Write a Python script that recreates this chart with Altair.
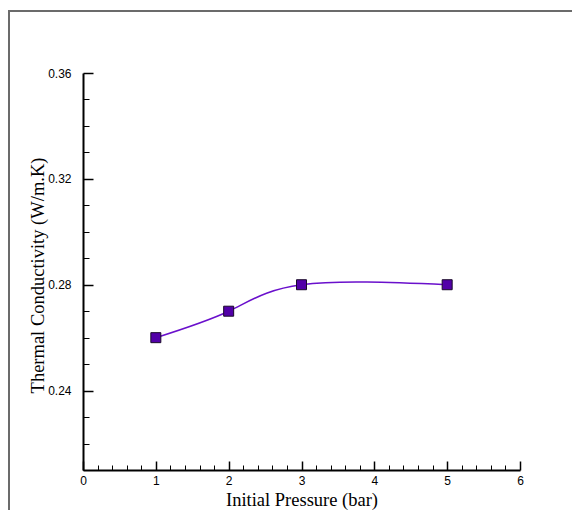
import altair as alt
import pandas as pd

# Data
pressure = [1, 2, 3, 5]
conductivity = [0.26, 0.27, 0.28, 0.28]

# Tick values
x_major = [0, 1, 2, 3, 4, 5, 6]
x_minor = [0.2, 0.4, 0.6, 0.8, 1.2, 1.4, 1.6, 1.8, 2.2, 2.4, 2.6, 2.8,
           3.2, 3.4, 3.6, 3.8, 4.2, 4.4, 4.6, 4.8, 5.2, 5.4, 5.6, 5.8]
y_major = [0.24, 0.28, 0.32, 0.36]
y_minor = [0.21, 0.22, 0.23, 0.25, 0.26, 0.27, 0.29, 0.30, 0.31, 0.33, 0.34, 0.35]

df = pd.DataFrame({"p": pressure, "k": conductivity})
W, H = 437, 397

xs = alt.Scale(domain=[0, 6], nice=False, zero=False)
ys = alt.Scale(domain=[0.21, 0.36], nice=False, zero=False)

SANS = "Arial"
SERIF = "Liberation Serif"
LBL = 12
TTL = 18.5

label_x = alt.Axis(orient="bottom", values=x_major, format="d", ticks=False,
                   labelPadding=5, labelFlush=False, domain=True, domainColor="black",
                   domainWidth=2, grid=False, title="Initial Pressure (bar)",
                   titleFont=SERIF, titleFontSize=TTL, titleFontWeight="normal",
                   titleColor="black", titlePadding=4, labelFont=SANS,
                   labelFontSize=LBL, labelColor="black")
label_y = alt.Axis(orient="left", values=y_major, format=".2f", ticks=False,
                   labelPadding=12, labelFlush=False, domain=True, domainColor="black",
                   domainWidth=2, grid=False, title="Thermal Conductivity (W/m.K)",
                   titleFont=SERIF, titleFontSize=TTL, titleFontWeight="normal",
                   titleColor="black", titlePadding=0, titleY=202, labelFont=SANS,
                   labelFontSize=LBL, labelColor="black")

major_x = alt.Axis(orient="top", offset=-H, values=x_major, labels=False, domain=False,
                   grid=False, ticks=True, tickSize=9, tickWidth=1.5, tickColor="black",
                   title=None)
major_y = alt.Axis(orient="right", offset=-W, values=y_major, labels=False, domain=False,
                   grid=False, ticks=True, tickSize=10, tickWidth=1.5, tickColor="black",
                   title=None)
minor_x = alt.Axis(orient="top", offset=-H, values=x_minor, labels=False, domain=False,
                   grid=False, ticks=True, tickSize=5, tickWidth=1, tickColor="black",
                   title=None)
minor_y = alt.Axis(orient="right", offset=-W, values=y_minor, labels=False, domain=False,
                   grid=False, ticks=True, tickSize=6, tickWidth=1, tickColor="black",
                   title=None)

frame = alt.Chart(alt.Data(values=[{"a": 1}])).mark_rect(
    fillOpacity=0, stroke="#6b6b6b", strokeWidth=2
).encode(
    x=alt.value(-74), x2=alt.value(600), y=alt.value(-62), y2=alt.value(600)
)

base = alt.Chart(df)

minor = base.mark_point(opacity=0).encode(
    x=alt.X("p:Q", scale=xs, axis=minor_x),
    y=alt.Y("k:Q", scale=ys, axis=minor_y),
)

line = base.mark_line(color="#6a10cc", strokeWidth=1.5, interpolate="natural").encode(
    x=alt.X("p:Q", scale=xs, axis=label_x),
    y=alt.Y("k:Q", scale=ys, axis=label_y),
)

points = base.mark_square(size=100, fill="#5200a8", stroke="#1a0a2a", strokeWidth=1,
                          opacity=1).encode(
    x=alt.X("p:Q", scale=xs, axis=major_x),
    y=alt.Y("k:Q", scale=ys, axis=major_y),
)

chart = alt.layer(frame, minor, line, points).resolve_axis(
    x="independent", y="independent"
).properties(
    width=W, height=H,
    autosize=alt.AutoSizeParams(type="none"),
    padding={"left": 75, "top": 65, "right": 52, "bottom": 40},
    background="white",
).configure_view(stroke=None)

chart.save("out.html", embed_options={"renderer": "svg", "actions": False})
